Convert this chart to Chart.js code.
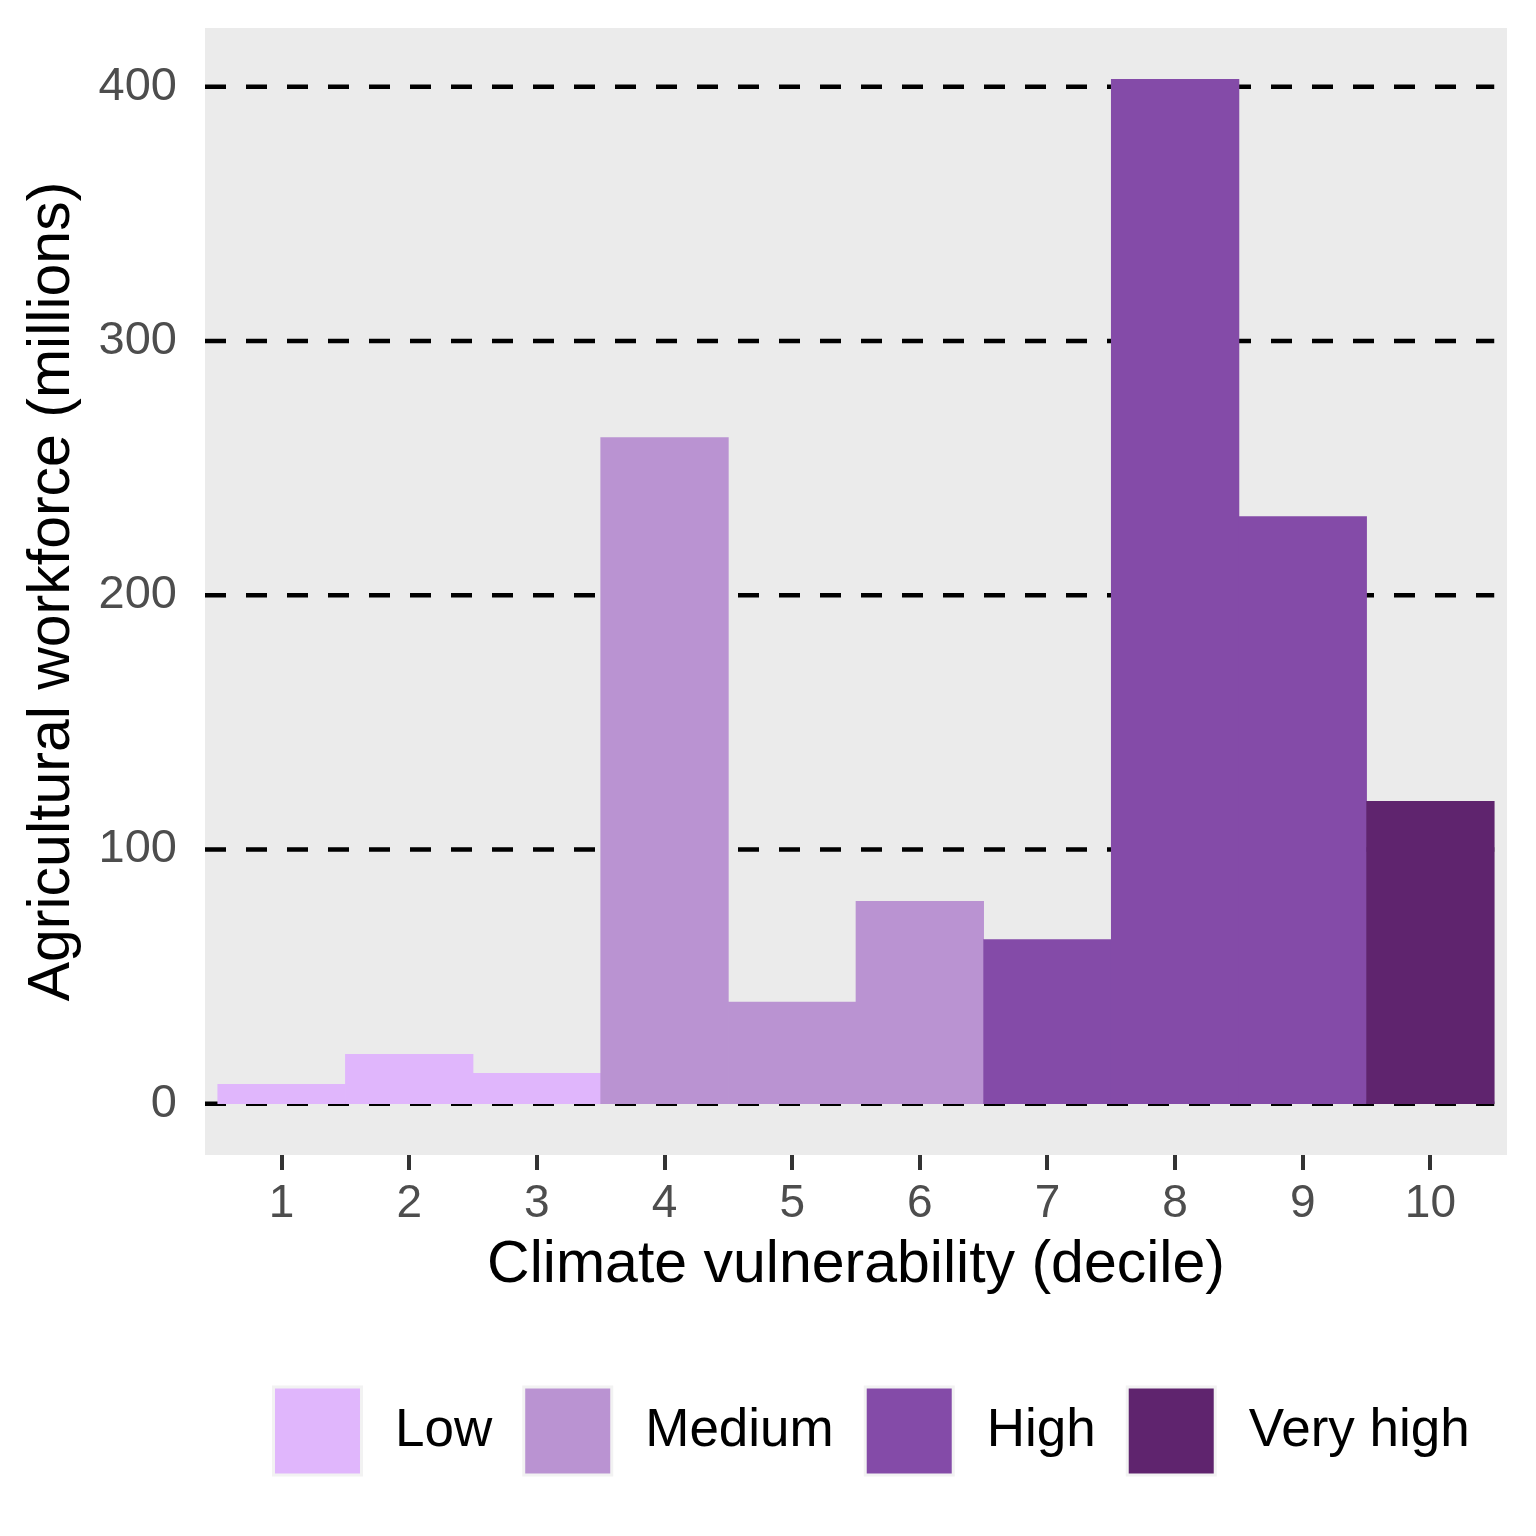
<!DOCTYPE html>
<html>
<head>
<meta charset="utf-8">
<script src="https://cdn.jsdelivr.net/npm/chart.js@4"></script>
<style>
html,body{margin:0;padding:0;background:#ffffff;}
#wrap{width:1536px;height:1536px;}
canvas{display:block;}
</style>
</head>
<body>
<div id="wrap"><canvas id="c" width="1536" height="1536"></canvas></div>
<script>
// ---- data ----
const deciles = [1, 2, 3, 4, 5, 6, 7, 8, 9, 10];
const workforce = [7.6, 19.4, 12, 262, 40, 79.6, 64.6, 403, 231, 119];
const decileGroup = ['Low', 'Low', 'Low', 'Medium', 'Medium', 'Medium', 'High', 'High', 'High', 'Very high'];
const groups = ['Low', 'Medium', 'High', 'Very high'];
const groupColors = ['#E0B6FC', '#BA93D2', '#844BA8', '#5F246E'];
const yTicks = [0, 100, 200, 300, 400];
const xTitle = 'Climate vulnerability (decile)';
const yTitle = 'Agricultural workforce (millions)';

const FAMILY = "'Liberation Sans', Arial, Helvetica, sans-serif";

const panelPlugin = {
  id: 'panel',
  beforeDraw(chart) {
    const {ctx, chartArea: a} = chart;
    ctx.save();
    ctx.fillStyle = '#EBEBEB';
    ctx.fillRect(a.left, a.top, a.right - a.left, a.bottom - a.top);
    ctx.restore();
  },
  beforeDatasetsDraw(chart) {
    const {ctx, chartArea: a, scales: {x, y}} = chart;
    ctx.save();
    ctx.strokeStyle = '#000000';
    ctx.lineWidth = 4.5;
    ctx.setLineDash([21, 20]);
    ctx.lineCap = 'butt';
    const xEnd = x.getPixelForValue(deciles[deciles.length - 1] + 0.5);
    yTicks.forEach(v => {
      const py = y.getPixelForValue(v);
      ctx.beginPath();
      ctx.moveTo(a.left, py);
      ctx.lineTo(xEnd, py);
      ctx.stroke();
    });
    ctx.restore();
  }
};

const legendPlugin = {
  id: 'groupLegend',
  afterDraw(chart) {
    const ctx = chart.ctx;
    ctx.save();
    ctx.font = '53px ' + FAMILY;
    ctx.textBaseline = 'middle';
    ctx.textAlign = 'left';
    const outer = 91, inner = 85, cy = 1431;
    let x = 272;
    groups.forEach((g, i) => {
      ctx.fillStyle = '#F2F2F2';
      ctx.fillRect(x, cy - outer / 2, outer, outer);
      ctx.fillStyle = groupColors[i];
      ctx.fillRect(x + (outer - inner) / 2, cy - inner / 2, inner, inner);
      ctx.fillStyle = '#000000';
      const tx = x + outer + 32;
      ctx.fillText(g, tx, cy);
      x = tx + ctx.measureText(g).width + 30;
    });
    ctx.restore();
  }
};

const barColors = decileGroup.map(g => groupColors[groups.indexOf(g)]);

new Chart(document.getElementById('c').getContext('2d'), {
  type: 'bar',
  data: {
    datasets: [{
      label: 'Agricultural workforce',
      data: deciles.map((d, i) => ({x: d, y: workforce[i]})),
      backgroundColor: barColors,
      borderWidth: 0,
      barPercentage: 1,
      categoryPercentage: 1
    }]
  },
  options: {
    responsive: false,
    animation: false,
    devicePixelRatio: 1,
    layout: {padding: {left: 0, top: 28, right: 29, bottom: 235}},
    plugins: {legend: {display: false}, tooltip: {enabled: false}},
    scales: {
      x: {
        type: 'linear',
        min: 0.4,
        max: 10.6,
        offset: false,
        afterBuildTicks: s => { s.ticks = deciles.map(v => ({value: v})); },
        afterFit: s => { s.height = 146; s.paddingLeft = 0; s.paddingRight = 0; },
        grid: {display: true, offset: false, drawOnChartArea: false, drawTicks: true, tickLength: 15,
               tickColor: '#333333', tickWidth: 4, color: '#333333', lineWidth: 4},
        border: {display: false},
        ticks: {color: '#4D4D4D', font: {family: FAMILY, size: 46}, padding: 7,
                autoSkip: false, maxRotation: 0, callback: v => String(v)},
        title: {display: true, text: xTitle, color: '#000000',
                font: {family: FAMILY, size: 59}, padding: {top: 0, bottom: 0}}
      },
      y: {
        min: -20.15,
        max: 423.15,
        afterBuildTicks: s => { s.ticks = yTicks.map(v => ({value: v})); },
        afterFit: s => { s.width = 205; s.paddingTop = 0; s.paddingBottom = 0; },
        grid: {display: false, drawTicks: false},
        border: {display: false},
        ticks: {color: '#4D4D4D', font: {family: FAMILY, size: 47}, padding: 28},
        title: {display: true, text: yTitle, color: '#000000',
                font: {family: FAMILY, size: 59}, padding: {top: 17, bottom: 0}}
      }
    }
  },
  plugins: [panelPlugin, legendPlugin]
});
</script>
</body>
</html>
